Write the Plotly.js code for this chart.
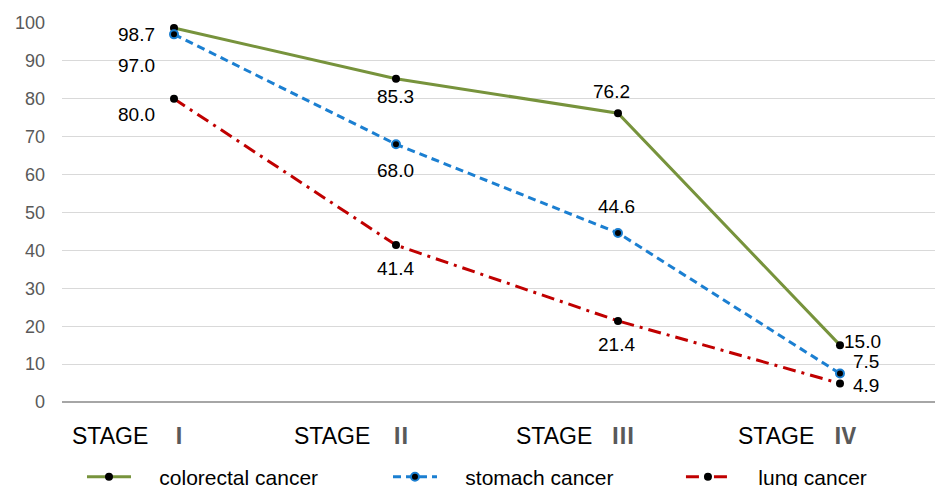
<!DOCTYPE html>
<html>
<head>
<meta charset="utf-8">
<script src="https://cdn.plot.ly/plotly-3.0.1.min.js"></script>
<style>html,body{margin:0;padding:0;background:#fff;}#chart{width:939px;height:486px;}</style>
</head>
<body>
<div id="chart"></div>
<script>
const stages = ["Ⅰ", "Ⅱ", "Ⅲ", "Ⅳ"];
const stagePrefix = "STAGE";
const seriesNames = ["colorectal cancer", "stomach cancer", "lung cancer"];
const colorectal = [98.7, 85.3, 76.2, 15.0];
const stomach = [97.0, 68.0, 44.6, 7.5];
const lung = [80.0, 41.4, 21.4, 4.9];
const yTicks = [0, 10, 20, 30, 40, 50, 60, 70, 80, 90, 100];

const xs = stages.map((_, i) => i);
const seriesValues = [colorectal, stomach, lung];
const lineColors = ["#77933C", "#1B7FD1", "#C00000"];
const markerLine = ["#000000", "#1B7FD1", "#000000"];
const dashes = ["solid", "8px,5px", "13px,6px,3px,6px"];
const legendIds = ["legend", "legend2", "legend3"];
const legendX = [0.0229, 0.3734, 0.709];
// label offsets in px (dx, dy downward)
const labelOffsets = [
  [[-38, 7], [0, 18], [-6, -22], [23, -4]],
  [[-38, 31], [0, 26], [-1, -26], [26, -12]],
  [[-38, 16], [0, 23], [-1, 24], [26, 2]]
];

const FONT = "Liberation Sans, Arial, sans-serif";
const PAD = "\u00a0\u00a0\u00a0\u00a0";

const traces = seriesValues.map((vals, s) => ({
  x: xs, y: vals, type: "scatter", mode: "lines+markers", name: PAD + seriesNames[s],
  legend: legendIds[s],
  line: {color: lineColors[s], width: 3, dash: dashes[s]},
  marker: {color: "#000000", size: 8, line: {color: markerLine[s], width: s === 1 ? 2 : 0}},
  cliponaxis: false
}));

const annotations = [];
seriesValues.forEach((vals, s) => {
  vals.forEach((v, i) => {
    annotations.push({
      x: xs[i], y: v, xref: "x", yref: "y", text: v.toFixed(1), showarrow: false,
      xanchor: "center", yanchor: "middle",
      xshift: labelOffsets[s][i][0], yshift: -labelOffsets[s][i][1],
      font: {family: FONT, size: 19, color: "#000000"}
    });
  });
});
stages.forEach((st, i) => {
  annotations.push({
    x: xs[i], y: 0, xref: "x", yref: "y", showarrow: false,
    text: stagePrefix + "\u00a0\u00a0\u00a0<span style='color:#595959;font-family:Noto Sans CJK KR;font-weight:bold'>" + st + "</span>",
    xanchor: "left", yanchor: "middle", xshift: -104, yshift: -32,
    font: {family: FONT, size: 23, color: "#000000"}
  });
});

const layout = {
  width: 939, height: 486,
  margin: {l: 62, r: 4, t: 23, b: 84, autoexpand: false},
  paper_bgcolor: "#ffffff", plot_bgcolor: "#ffffff",
  showlegend: true,
  xaxis: {
    range: [-0.5045, 3.428], showgrid: false, zeroline: false, showline: false,
    showticklabels: false, ticks: "", fixedrange: true
  },
  yaxis: {
    range: [0, 100], tickvals: yTicks, ticktext: yTicks.map(String),
    showgrid: true, gridcolor: "#D9D9D9", gridwidth: 1,
    zeroline: true, zerolinecolor: "#A6A6A6", zerolinewidth: 1.5,
    showline: false, ticks: "", ticklabelstandoff: 16,
    tickfont: {family: FONT, size: 18, color: "#595959"}
  },
  annotations: annotations
};
legendIds.forEach((id, s) => {
  layout[id] = {
    orientation: "h", x: legendX[s], xanchor: "left", y: -0.198, yanchor: "middle",
    font: {family: FONT, size: 21, color: "#000000"},
    itemwidth: 44, bgcolor: "rgba(0,0,0,0)"
  };
});

Plotly.newPlot("chart", traces, layout, {displayModeBar: false, staticPlot: true});
</script>
</body>
</html>
